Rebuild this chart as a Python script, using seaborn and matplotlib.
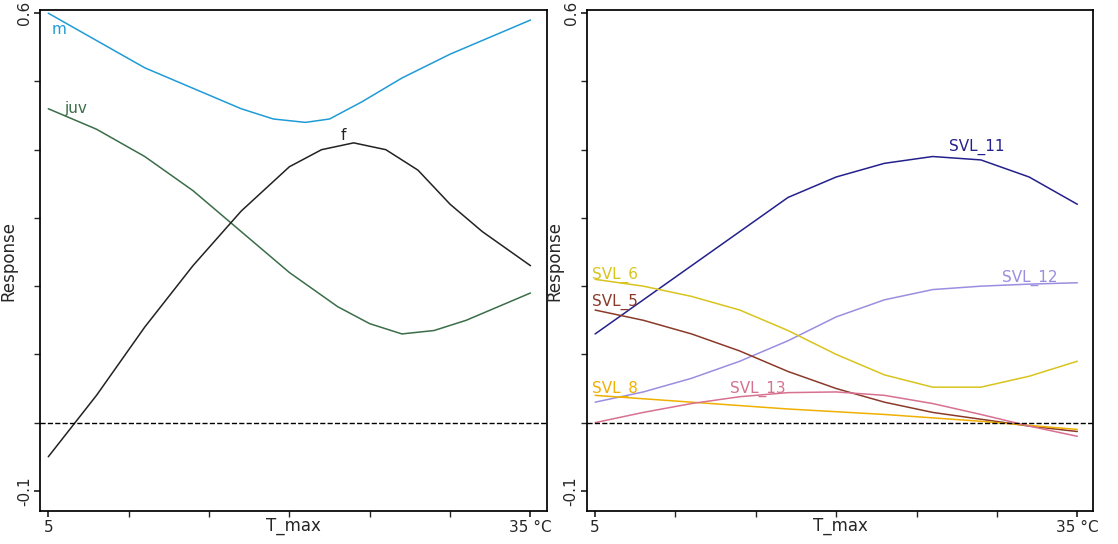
import seaborn as sns
import matplotlib.pyplot as plt
import pandas as pd

sns.set_theme(style="white")
plt.rcParams['font.family'] = ['DejaVu Sans']

# left panel: sex / age classes
t_m = [5, 8, 11, 14, 17, 19, 21, 22.5, 24.5, 27, 30, 33, 35]
m = [0.60, 0.56, 0.52, 0.49, 0.46, 0.445, 0.44, 0.445, 0.47, 0.505, 0.54, 0.57, 0.59]
t_juv = [5, 8, 11, 14, 17, 20, 23, 25, 27, 29, 31, 33, 35]
juv = [0.46, 0.43, 0.39, 0.34, 0.28, 0.22, 0.17, 0.145, 0.13, 0.135, 0.15, 0.17, 0.19]
t_f = [5, 8, 11, 14, 17, 20, 22, 24, 26, 28, 30, 32, 35]
f = [-0.05, 0.04, 0.14, 0.23, 0.31, 0.375, 0.40, 0.41, 0.40, 0.37, 0.32, 0.28, 0.23]

# right panel: SVL classes
t_r = [5, 8, 11, 14, 17, 20, 23, 26, 29, 32, 35]
svl11 = [0.13, 0.18, 0.23, 0.28, 0.33, 0.36, 0.38, 0.39, 0.385, 0.36, 0.32]
svl12 = [0.03, 0.045, 0.065, 0.09, 0.12, 0.155, 0.18, 0.195, 0.20, 0.203, 0.205]
svl6 = [0.21, 0.20, 0.185, 0.165, 0.135, 0.10, 0.07, 0.052, 0.052, 0.068, 0.09]
svl5 = [0.165, 0.15, 0.13, 0.105, 0.075, 0.05, 0.03, 0.015, 0.005, -0.005, -0.013]
svl8 = [0.04, 0.035, 0.03, 0.025, 0.02, 0.016, 0.012, 0.007, 0.002, -0.004, -0.01]
svl13 = [0.0, 0.015, 0.028, 0.038, 0.044, 0.045, 0.04, 0.028, 0.012, -0.005, -0.02]

fig, axes = plt.subplots(1, 2, figsize=(11.18, 5.44), dpi=100)
fig.subplots_adjust(left=0.036, right=0.978, top=0.982, bottom=0.06, wspace=0.08)

left = [("m", t_m, m, "#1f9bd7", (5.2, 0.565)),
        ("juv", t_juv, juv, "#3a6e48", (6.0, 0.45)),
        ("f", t_f, f, "#222222", (23.2, 0.41))]
right = [("SVL_11", t_r, svl11, "#24208c", (27.0, 0.392)),
         ("SVL_12", t_r, svl12, "#9a8ee0", (30.3, 0.20)),
         ("SVL_6", t_r, svl6, "#d8c41c", (4.8, 0.205)),
         ("SVL_5", t_r, svl5, "#8b3a2a", (4.8, 0.165)),
         ("SVL_8", t_r, svl8, "#f0b000", (4.8, 0.037)),
         ("SVL_13", t_r, svl13, "#d87090", (13.4, 0.037))]

for ax, series in zip(axes, [left, right]):
    for name, t, v, c, (lx, ly) in series:
        sns.lineplot(x=t, y=v, ax=ax, color=c, linewidth=1.1)
        ax.text(lx, ly, name, color=c, fontsize=11, va="bottom")
    ax.axhline(0, color="black", linestyle="--", linewidth=1)
    ax.set_xlim(4.5, 36)
    ax.set_ylim(-0.13, 0.605)
    ax.set_xticks([5, 35])
    ax.set_xticklabels(["5", "35 °C"])
    ax.set_xticks([10, 15, 20, 25, 30], minor=True)
    ax.set_yticks([-0.1, 0.6])
    ax.set_yticklabels(["-0.1", "0.6"], rotation=90, va="center")
    ax.set_yticks([0.0, 0.1, 0.2, 0.3, 0.4, 0.5], minor=True)
    ax.tick_params(which="both", direction="out", length=4, left=True, bottom=True,
                   labelsize=11, pad=2)
    ax.set_xlabel("T_max", fontsize=12, labelpad=-13)
    ax.set_ylabel("Response", fontsize=12, labelpad=0)
    for s in ax.spines.values():
        s.set_color("black")

fig.savefig("out.png")
